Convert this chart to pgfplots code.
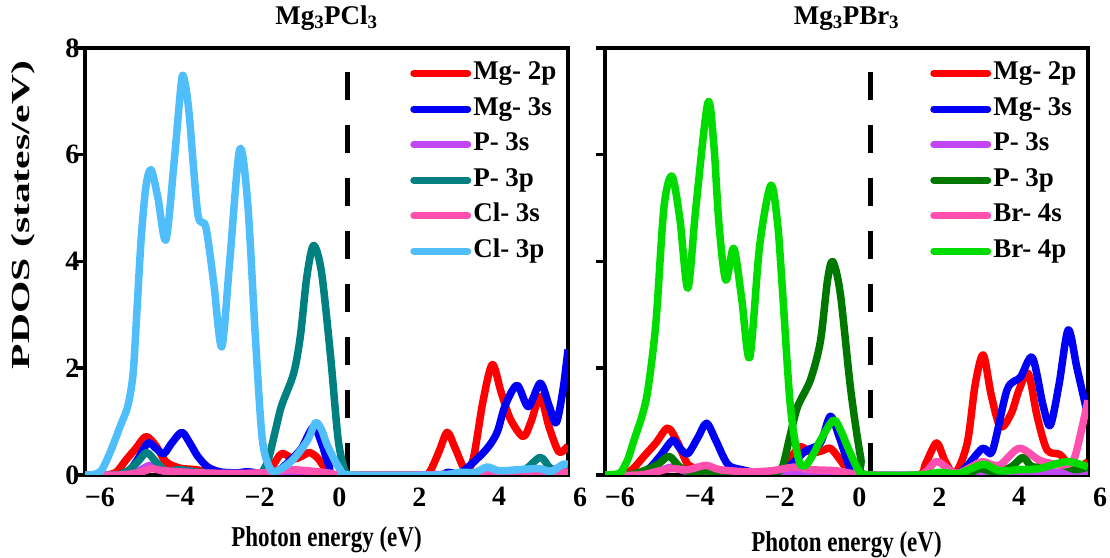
\documentclass[border=0pt]{standalone}
\usepackage{fontspec}
\setmainfont{Liberation Serif}
\usepackage{graphicx}
\usepackage{pgfplots}
\pgfplotsset{compat=1.18}

% orbital colours
\definecolor{cMgp}{RGB}{255,0,0}
\definecolor{cMgs}{RGB}{0,0,245}
\definecolor{cPs}{RGB}{195,70,245}
\definecolor{cPpCl}{RGB}{0,128,128}
\definecolor{cPpBr}{RGB}{0,120,0}
\definecolor{cXs}{RGB}{255,80,175}
\definecolor{cClp}{RGB}{80,190,250}
\definecolor{cBrp}{RGB}{0,220,0}

\newcommand{\tickfont}{\fontsize{28bp}{30bp}\selectfont\bfseries}
\newcommand{\legfont}{\fontsize{27bp}{29bp}\selectfont\bfseries}
\newcommand{\titlefont}{\fontsize{27bp}{29bp}\selectfont\bfseries}
\newcommand{\labfont}{\fontsize{23bp}{25bp}\selectfont\bfseries}
\newcommand{\ylabfont}{\fontsize{26bp}{28bp}\selectfont\bfseries}
\newcommand{\tl}[1]{\textbf{\tickfont #1}}

\pgfplotsset{
  pdos/.style={
    scale only axis, width=483bp, height=427bp,
    xmin=-6.375, xmax=5.725, ymin=0, ymax=8,
    /pgf/number format/assume math mode=true,
    axis line style={line width=3.5bp},
    xtick={-6,-4,-2,0,2,4},
    xticklabels={\tl{−6},\tl{−4},\tl{−2},\tl{0},\tl{2},\tl{4}},
    extra x ticks={5.725}, extra x tick labels={\tl{6}},
    extra x tick style={major tick length=0pt, xticklabel style={xshift=12bp, yshift=-9bp}},
    x tick style={draw=none},
    ytick={0,2,4,6,8},
    yticklabels={\tl{0},\tl{2},\tl{4},\tl{6},\tl{8}},
    yticklabel style={xshift=7bp},
    y tick style={line width=3.5bp, black},
    tick align=outside, major tick length=9bp,
    ytick pos=left, xtick pos=bottom,
    tick label style={font=\tickfont},
    xlabel style={font=\labfont, anchor=center},
    title style={font=\titlefont, anchor=base, at={(axis description cs:0.5,1.042)}},
    legend cell align=left,
    legend image code/.code={\draw[##1, line width=7bp, line cap=round] (0bp,0bp) -- (54bp,0bp);},
    legend style={draw=none, fill=none, at={(0.673,0.971)}, anchor=north west,
      inner sep=0pt, row sep=9.5bp, font=\legfont,
      nodes={inner sep=2bp, text height=17bp, text depth=5bp}},
    every axis plot/.append style={line width=7.5bp, line join=round, smooth},
  },
  fermi/.style={black, line width=5bp, sharp plot, dash pattern=on 28bp off 25bp, forget plot},
}

\begin{document}
\begin{tikzpicture}
\useasboundingbox (0,0) rectangle (1110bp,558bp);

% ---------------- Mg3PCl3 ----------------
\begin{axis}[pdos, at={(85bp,83bp)}, anchor=south west,
  title={Mg\textsubscript{3}PCl\textsubscript{3}},
  xlabel={\scalebox{1}[1.25]{Photon energy (eV)}},
  xlabel style={at={(axis description cs:0.5,-0.152)}},
  ylabel={\scalebox{1.6}[1]{PDOS (states/eV)}},
  ylabel style={font=\ylabfont, at={(axis description cs:-0.128,0.609)}, anchor=center},
]
\addplot[fermi] coordinates {(0.2,7.55) (0.2,0)};

\addplot[cMgp] coordinates {
(-6.375,0) (-5.9,0) (-5.6,0.05) (-5.35,0.28) (-5.1,0.5) (-4.85,0.72) (-4.6,0.55)
(-4.35,0.25) (-4.0,0.13) (-3.6,0.1) (-3.2,0.05) (-2.8,0.02) (-2.0,0.02) (-1.7,0.15)
(-1.45,0.4) (-1.15,0.3) (-0.95,0.35) (-0.75,0.42) (-0.55,0.32) (-0.35,0.12) (-0.15,0)
(2.0,0) (2.25,0.05) (2.5,0.45) (2.7,0.8) (2.9,0.5) (3.15,0.1) (3.35,0.3) (3.6,1.4)
(3.83,2.07) (4.05,1.55) (4.28,1.05) (4.6,0.72) (4.8,1.0) (5.03,1.47) (5.25,0.9)
(5.5,0.43) (5.725,0.55)};
\addlegendentry{Mg- 2p}

\addplot[cMgs] coordinates {
(-6.375,0) (-5.6,0) (-5.3,0.05) (-5.05,0.3) (-4.8,0.6) (-4.6,0.5) (-4.4,0.4) (-4.2,0.6)
(-3.95,0.8) (-3.75,0.6) (-3.55,0.35) (-3.3,0.15) (-3.0,0.06) (-2.6,0.04) (-2.3,0.06)
(-2.0,0.03) (-1.8,0) (-1.5,0.1) (-1.2,0.3) (-0.95,0.5) (-0.65,0.9) (-0.45,0.6)
(-0.25,0.15) (-0.05,0) (2.4,0) (2.7,0.05) (3.0,0.03) (3.3,0.2) (3.7,0.5) (3.95,0.8)
(4.15,1.3) (4.45,1.68) (4.73,1.28) (5.03,1.72) (5.25,1.3) (5.43,0.98) (5.6,1.6) (5.725,2.35)};
\addlegendentry{Mg- 3s}

\addplot[cPs] coordinates {
(-6.375,0) (-5.5,0) (-5.1,0.05) (-4.75,0.18) (-4.5,0.1) (-4.2,0.03) (-3.5,0.02)
(-2.0,0.02) (-1.5,0.05) (-0.8,0.06) (-0.3,0.02) (0,0) (2.0,0) (3.0,0.02) (4.0,0.03)
(5.0,0.05) (5.725,0.04)};
\addlegendentry{P- 3s}

\addplot[cPpCl] coordinates {
(-6.375,0) (-5.6,0) (-5.3,0.08) (-5.05,0.25) (-4.83,0.42) (-4.6,0.25) (-4.35,0.08)
(-4.0,0.1) (-3.6,0.06) (-3.0,0.02) (-2.2,0.02) (-1.95,0.05) (-1.78,0.3) (-1.6,0.85)
(-1.45,1.3) (-1.15,1.9) (-0.98,2.6) (-0.82,3.7) (-0.65,4.3) (-0.45,3.8) (-0.22,2.2)
(-0.03,0.65) (0.15,0.05) (0.3,0) (3.5,0) (4.0,0.05) (4.6,0.08) (5.03,0.33) (5.3,0.12)
(5.725,0.1)};
\addlegendentry{P- 3p}

\addplot[cXs] coordinates {
(-6.375,0) (-5.5,0) (-5.0,0.05) (-4.7,0.12) (-4.4,0.08) (-3.5,0.04) (-2.5,0.03)
(-1.8,0.05) (-1.3,0.1) (-0.8,0.08) (-0.2,0.03) (0.1,0) (2.5,0) (3.5,0.04) (4.5,0.05)
(5.2,0.08) (5.725,0.05)};
\addlegendentry{Cl- 3s}

\addplot[cClp] coordinates {
(-6.375,0) (-6.15,0.01) (-5.95,0.1) (-5.72,0.47) (-5.5,0.9) (-5.3,1.3) (-5.17,1.9)
(-5.08,3.0) (-4.97,4.4) (-4.85,5.4) (-4.72,5.72) (-4.55,5.2) (-4.35,4.4) (-4.15,5.8)
(-3.97,7.3) (-3.9,7.45) (-3.77,6.8) (-3.55,4.9) (-3.35,4.65) (-3.15,3.6) (-2.95,2.4)
(-2.75,4.0) (-2.5,6.1) (-2.3,5.1) (-2.1,2.5) (-1.93,0.65) (-1.72,0.1) (-1.5,0.1)
(-1.15,0.3) (-0.8,0.65) (-0.6,0.98) (-0.45,0.85) (-0.3,0.55) (0.02,0.1) (0.3,0)
(2.5,0) (3.0,0.05) (3.4,0.05) (3.7,0.15) (4.0,0.08) (4.5,0.1) (5.0,0.12) (5.3,0.07)
(5.6,0.2) (5.725,0.2)};
\addlegendentry{Cl- 3p}
\end{axis}

% ---------------- Mg3PBr3 ----------------
\begin{axis}[pdos, at={(605bp,83bp)}, anchor=south west,
  title={Mg\textsubscript{3}PBr\textsubscript{3}},
  xlabel={\scalebox{1}[1.25]{Photon energy (eV)}},
  xlabel style={at={(axis description cs:0.5,-0.163)}},
  yticklabels={},
]
\addplot[fermi] coordinates {(0.27,7.55) (0.27,0)};

\addplot[cMgp] coordinates {
(-6.375,0) (-6.0,0) (-5.7,0.1) (-5.4,0.35) (-5.1,0.6) (-4.8,0.88) (-4.55,0.6) (-4.3,0.2)
(-4.0,0.12) (-3.6,0.1) (-3.2,0.05) (-2.5,0.03) (-2.0,0.1) (-1.7,0.35) (-1.48,0.53)
(-1.2,0.42) (-0.95,0.45) (-0.73,0.5) (-0.5,0.3) (-0.25,0.05) (0,0) (1.45,0) (1.65,0.2)
(1.93,0.6) (2.15,0.25) (2.4,0.03) (2.7,0.6) (2.9,1.7) (3.1,2.25) (3.3,1.5) (3.53,0.9)
(3.8,1.15) (4.0,1.6) (4.23,1.9) (4.45,1.1) (4.7,0.47) (5.03,0.38) (5.35,0.12) (5.725,0.25)};
\addlegendentry{Mg- 2p}

\addplot[cMgs] coordinates {
(-6.375,0) (-5.6,0) (-5.3,0.1) (-5.0,0.35) (-4.68,0.65) (-4.5,0.5) (-4.3,0.4) (-4.05,0.7)
(-3.83,0.97) (-3.6,0.65) (-3.3,0.2) (-2.95,0.1) (-2.5,0.04) (-2.0,0.05) (-1.7,0.2)
(-1.35,0.45) (-0.98,0.6) (-0.73,1.1) (-0.5,0.7) (-0.25,0.15) (-0.05,0) (2.2,0) (2.6,0.1)
(3.08,0.5) (3.33,0.45) (3.7,1.6) (4.03,1.83) (4.33,2.2) (4.6,1.3) (4.78,0.93) (5.0,1.7)
(5.23,2.72) (5.45,2.0) (5.725,1.1)};
\addlegendentry{Mg- 3s}

\addplot[cPs] coordinates {
(-6.375,0) (-5.5,0) (-5.1,0.05) (-4.7,0.15) (-4.4,0.08) (-4.0,0.03) (-3.0,0.02)
(-2.0,0.02) (-1.5,0.04) (-0.8,0.05) (-0.3,0.02) (0,0) (2.0,0) (3.0,0.02) (4.0,0.04)
(5.0,0.05) (5.725,0.04)};
\addlegendentry{P- 3s}

\addplot[cPpBr] coordinates {
(-6.375,0) (-5.8,0) (-5.4,0.08) (-5.05,0.2) (-4.77,0.35) (-4.5,0.15) (-4.2,0.05)
(-3.8,0.08) (-3.5,0.03) (-2.5,0.02) (-2.1,0.05) (-1.93,0.15) (-1.75,0.7) (-1.55,1.28)
(-1.23,1.78) (-0.98,2.5) (-0.8,3.65) (-0.67,4.0) (-0.48,3.4) (-0.22,1.6) (0.03,0.33)
(0.2,0) (2.5,0) (3.0,0.12) (3.4,0.05) (3.8,0.15) (4.1,0.33) (4.35,0.15) (5.0,0.2)
(5.4,0.1) (5.725,0.15)};
\addlegendentry{P- 3p}

\addplot[cXs] coordinates {
(-6.375,0) (-5.5,0) (-5.0,0.08) (-4.7,0.12) (-4.3,0.1) (-3.85,0.18) (-3.5,0.1)
(-2.8,0.06) (-2.2,0.08) (-1.6,0.15) (-1.2,0.1) (-0.6,0.08) (-0.2,0.03) (0.1,0) (1.5,0)
(1.93,0.25) (2.4,0.03) (2.8,0.15) (3.08,0.25) (3.5,0.18) (4.0,0.5) (4.5,0.28) (4.9,0.2)
(5.2,0.2) (5.4,0.35) (5.725,1.4)};
\addlegendentry{Br- 4s}

\addplot[cBrp] coordinates {
(-6.375,0) (-6.15,0.01) (-5.98,0.05) (-5.8,0.3) (-5.65,0.65) (-5.45,1.1) (-5.3,1.6)
(-5.1,2.85) (-4.9,5.0) (-4.7,5.6) (-4.5,4.8) (-4.3,3.5) (-4.1,5.0) (-3.8,6.97)
(-3.65,6.2) (-3.52,4.7) (-3.35,3.65) (-3.15,4.25) (-2.95,3.3) (-2.75,2.2) (-2.5,4.3)
(-2.22,5.43) (-2.05,4.7) (-1.93,3.47) (-1.73,1.28) (-1.52,0.28) (-1.35,0.18) (-1.15,0.4)
(-0.98,0.65) (-0.65,1.03) (-0.45,0.8) (-0.3,0.53) (-0.03,0.1) (0.2,0) (1.5,0) (2.0,0.05)
(2.5,0.03) (3.1,0.2) (3.5,0.08) (4.0,0.1) (4.5,0.12) (5.2,0.25) (5.725,0.15)};
\addlegendentry{Br- 4p}
\end{axis}
\end{tikzpicture}
\end{document}
